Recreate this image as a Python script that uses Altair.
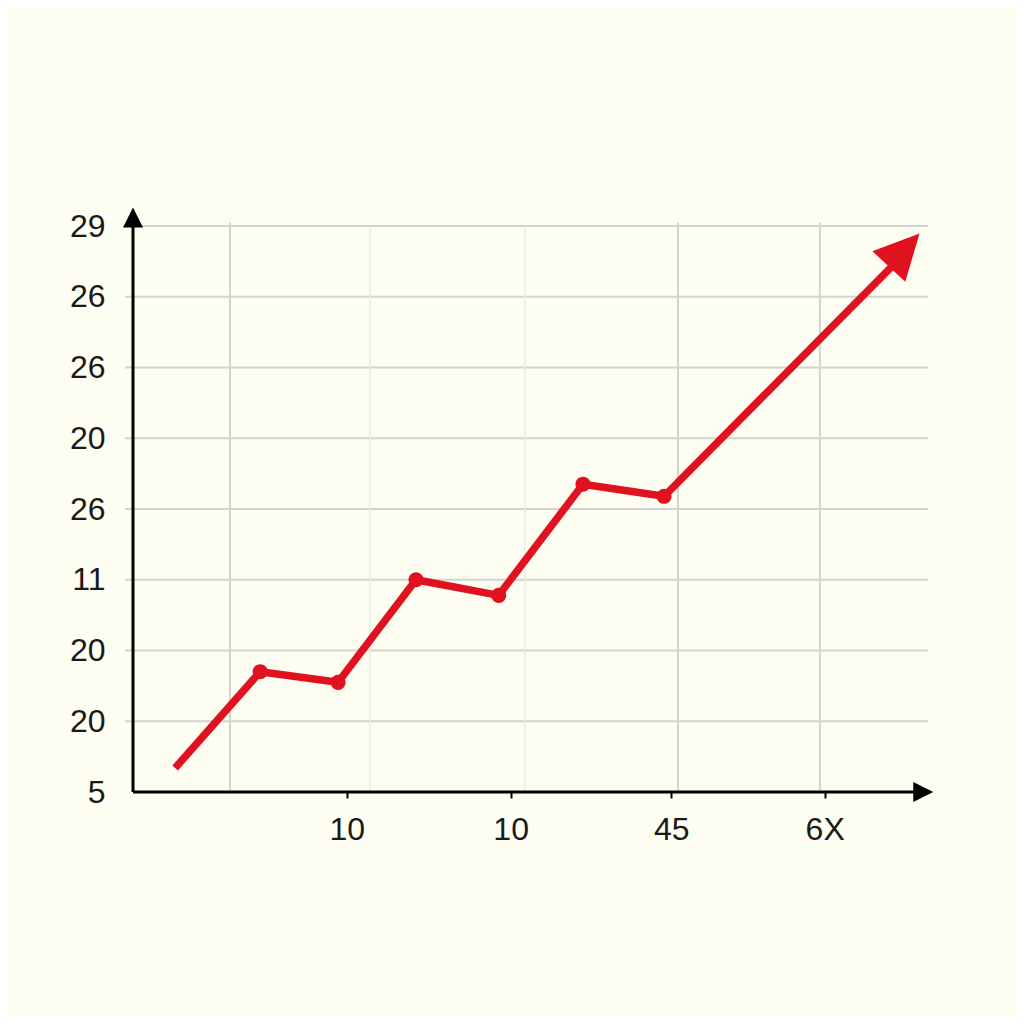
import altair as alt
import pandas as pd

# ---- data ----
line_x = [5.3, 16.0, 25.8, 35.6, 46.0, 56.6, 66.8, 96.0]
line_y = [0.34, 1.70, 1.55, 3.0, 2.78, 4.35, 4.18, 7.49]
marker_idx = [1, 2, 3, 4, 5, 6]

y_tick_values = [0, 1, 2, 3, 4, 5, 6, 7, 8]
y_tick_labels = ["5", "20", "20", "11", "26", "20", "26", "26", "29"]

x_tick_values = [26.9, 47.5, 67.7, 87.0]
x_tick_labels = ["10", "10", "45", "6X"]

grid_h = [1, 2, 3, 4, 5, 6, 7, 8]
grid_v_strong = [12.2, 68.55, 86.4]
grid_v_faint = [29.8, 49.3]

RED = "#E0121F"
BG = "#FDFDF1"
FONT = "Liberation Sans"

xs = alt.Scale(domain=[0, 100], nice=False, zero=False)
ys = alt.Scale(domain=[0, 8], nice=False, zero=False)

line_df = pd.DataFrame({"x": line_x, "y": line_y, "order": list(range(len(line_x)))})
pts_df = pd.DataFrame({"x": [line_x[i] for i in marker_idx], "y": [line_y[i] for i in marker_idx]})

xlab_expr = "[" + ",".join(f"'{l}'" for l in x_tick_labels) + "][indexof([" + ",".join(str(v) for v in x_tick_values) + "], datum.value)]"
ylab_expr = "[" + ",".join(f"'{l}'" for l in y_tick_labels) + "][datum.value]"

YAX = alt.Axis(values=y_tick_values, labelExpr=ylab_expr, domain=False, grid=False,
               ticks=False, labelPadding=28, labelFontSize=32, labelFont=FONT,
               labelColor="#1a1a1a", title=None)
XAX = alt.Axis(values=x_tick_values, labelExpr=xlab_expr, domain=False, grid=False,
               ticks=True, tickColor="black", tickWidth=2, tickSize=6,
               labelPadding=16, labelFontSize=32, labelFont=FONT,
               labelColor="#1a1a1a", title=None)


def X(f):
    return alt.X(f, scale=xs, axis=XAX)


def Y(f):
    return alt.Y(f, scale=ys, axis=YAX)


# horizontal gridlines
gh = alt.Chart(pd.DataFrame({"y": grid_h, "x0": [-1.0] * len(grid_h), "x1": [100.0] * len(grid_h)})).mark_rule(
    color="#D3D3D0", strokeWidth=2
).encode(y=Y("y:Q"), x=X("x0:Q"), x2="x1:Q")

gvs = alt.Chart(pd.DataFrame({"x": grid_v_strong, "y0": [0] * 3, "y1": [8.05] * 3})).mark_rule(
    color="#D3D3D0", strokeWidth=2
).encode(x=X("x:Q"), y=Y("y0:Q"), y2="y1:Q")

gvf = alt.Chart(pd.DataFrame({"x": grid_v_faint, "y0": [0] * 2, "y1": [8] * 2})).mark_rule(
    color="#ECECE2", strokeWidth=1.5
).encode(x=X("x:Q"), y=Y("y0:Q"), y2="y1:Q")

# axis lines
yaxis = alt.Chart(pd.DataFrame({"x": [0], "y0": [0], "y1": [8.0]})).mark_rule(color="black", strokeWidth=3).encode(
    x=X("x:Q"), y=Y("y0:Q"), y2="y1:Q")
xaxis = alt.Chart(pd.DataFrame({"y": [0], "x0": [0], "x1": [98.5]})).mark_rule(color="black", strokeWidth=3).encode(
    y=Y("y:Q"), x=X("x0:Q"), x2="x1:Q")

yarrow = alt.Chart(pd.DataFrame({"x": [0], "y": [8.12]})).mark_point(
    shape="M0,-1L-1,1L1,1Z", size=400, filled=True, color="black", opacity=1
).encode(x=X("x:Q"), y=Y("y:Q"))

xarrow = alt.Chart(pd.DataFrame({"x": [99.4], "y": [0]})).mark_point(
    shape="M0,-1L-1,1L1,1Z", size=400, filled=True, color="black", opacity=1, angle=90
).encode(x=X("x:Q"), y=Y("y:Q"))

# red line
line = alt.Chart(line_df).mark_line(color=RED, strokeWidth=7.5, strokeCap="butt", strokeJoin="round").encode(
    x=X("x:Q"), y=Y("y:Q"), order="order:Q")

pts = alt.Chart(pts_df).mark_circle(color=RED, size=230, opacity=1).encode(
    x=X("x:Q"), y=Y("y:Q"))

head = alt.Chart(pd.DataFrame({"x": [97.0], "y": [7.66]})).mark_point(
    shape="M0,-1L-1,1L1,1Z", size=2025, filled=True, color=RED, opacity=1, angle=43
).encode(x=X("x:Q"), y=Y("y:Q"))

chart = alt.layer(gh, gvf, gvs, yaxis, xaxis, yarrow, xarrow, line, pts, head).properties(
    width=795, height=566,
    autosize=alt.AutoSizeParams(type="none"),
    padding={"left": 125, "top": 218, "right": 88, "bottom": 224},
    background=BG,
).configure_view(stroke=None)

chart.save("out.html", embed_options={"renderer": "svg", "actions": False})
